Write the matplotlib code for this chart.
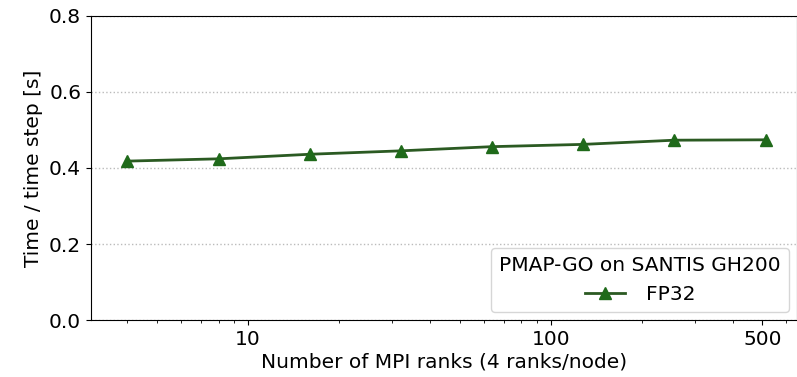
import matplotlib
matplotlib.use("Agg")
import matplotlib.pyplot as plt
from matplotlib.ticker import FixedLocator, FixedFormatter, NullFormatter

ranks = [4, 8, 16, 32, 64, 128, 256, 512]
time_fp32 = [0.418, 0.424, 0.436, 0.445, 0.456, 0.462, 0.473, 0.474]
xtick_vals = [10, 100, 500]
xtick_labels = ["10", "100", "500"]
ytick_vals = [0.0, 0.2, 0.4, 0.6, 0.8]

plt.rcParams["font.family"] = "DejaVu Sans"
fig = plt.figure(figsize=(7.97, 3.77), dpi=100)
ax = fig.add_axes([0.114, 0.151, 0.886, 0.807])

ax.plot(ranks, time_fp32, color="#2b5a22", marker="^", markersize=9,
        markerfacecolor="#1f6a1a", markeredgecolor="#1f6a1a", linewidth=2,
        label="FP32")

ax.set_xscale("log")
ax.set_xlim(3.03, 650)
ax.set_ylim(0, 0.8)
ax.xaxis.set_major_locator(FixedLocator(xtick_vals))
ax.xaxis.set_major_formatter(FixedFormatter(xtick_labels))
ax.xaxis.set_minor_formatter(NullFormatter())
ax.set_yticks(ytick_vals)
ax.tick_params(labelsize=14.5)
ax.grid(axis="y", linestyle=":", color="#bbbbbb", linewidth=1)

ax.set_xlabel("Number of MPI ranks (4 ranks/node)", fontsize=14.5, labelpad=3)
ax.set_ylabel("Time / time step [s]", fontsize=14.5)

leg = ax.legend(title="PMAP-GO on SANTIS GH200", loc="lower right",
                fontsize=14.5, title_fontsize=14.5, handlelength=2.0,
                handletextpad=1.0, borderaxespad=0.4)

fig.savefig("out.png", dpi=100)
